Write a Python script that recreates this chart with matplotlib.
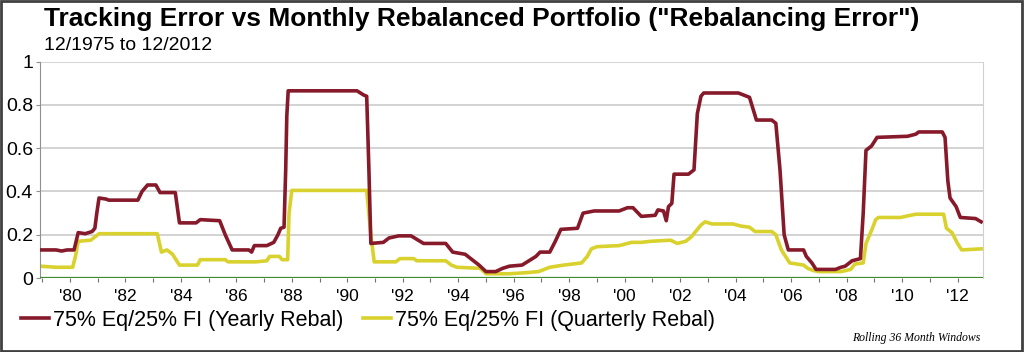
import matplotlib
matplotlib.use('Agg')
import matplotlib.pyplot as plt
from matplotlib.ticker import FixedLocator, FuncFormatter
from matplotlib.patches import Rectangle

# Rolling 36-month tracking error vs monthly rebalanced portfolio
yearly_dates = [
    1978.92, 1979.5, 1979.7, 1979.9, 1980.15, 1980.3, 1980.55, 1980.8, 1980.9, 1980.97,
    1981.05, 1981.3, 1981.4, 1982.45, 1982.6, 1982.8, 1983.1, 1983.25, 1983.8, 1983.95,
    1984.55, 1984.7, 1985.4, 1985.6, 1985.85, 1986.45, 1986.55, 1986.65, 1987.1, 1987.35,
    1987.5, 1987.6, 1987.72, 1987.78, 1987.82, 1987.87, 1990.35, 1990.6, 1990.7, 1990.78,
    1990.85, 1991.3, 1991.5, 1991.85, 1992.3, 1992.75, 1993.55, 1993.8, 1994.25, 1994.5,
    1994.75, 1995.0, 1995.35, 1995.6, 1995.85, 1996.3, 1996.55, 1996.8, 1996.95, 1997.3,
    1997.5, 1997.7, 1998.3, 1998.5, 1998.9, 1999.8, 2000.1, 2000.3, 2000.6, 2001.1,
    2001.2, 2001.4, 2001.5, 2001.58, 2001.7, 2001.78, 2002.3, 2002.5, 2002.62, 2002.75,
    2002.85, 2004.1, 2004.3, 2004.5, 2004.75, 2005.3, 2005.45, 2005.6, 2005.75, 2005.9,
    2006.45, 2006.55, 2006.75, 2006.9, 2007.6, 2007.8, 2007.95, 2008.2, 2008.5, 2008.6,
    2008.7, 2008.9, 2009.1, 2010.2, 2010.5, 2010.6, 2011.45, 2011.55, 2011.65, 2011.73,
    2011.95, 2012.1, 2012.65, 2012.85,
]
yearly_vals = [
    0.13, 0.13, 0.125, 0.13, 0.13, 0.21, 0.205, 0.215, 0.23, 0.30,
    0.37, 0.365, 0.36, 0.36, 0.40, 0.43, 0.43, 0.395, 0.395, 0.255,
    0.255, 0.27, 0.265, 0.20, 0.13, 0.13, 0.12, 0.15, 0.15, 0.165,
    0.20, 0.23, 0.235, 0.50, 0.75, 0.865, 0.865, 0.845, 0.84, 0.50,
    0.16, 0.165, 0.185, 0.195, 0.195, 0.16, 0.16, 0.12, 0.11, 0.085,
    0.06, 0.03, 0.03, 0.045, 0.055, 0.06, 0.08, 0.10, 0.12, 0.12,
    0.17, 0.225, 0.23, 0.30, 0.31, 0.31, 0.325, 0.325, 0.285, 0.29,
    0.315, 0.31, 0.265, 0.33, 0.345, 0.48, 0.48, 0.50, 0.76, 0.84,
    0.855, 0.855, 0.845, 0.835, 0.73, 0.73, 0.715, 0.50, 0.20, 0.13,
    0.13, 0.10, 0.07, 0.04, 0.04, 0.05, 0.055, 0.08, 0.09, 0.30,
    0.59, 0.61, 0.65, 0.655, 0.665, 0.675, 0.675, 0.65, 0.45, 0.37,
    0.33, 0.28, 0.275, 0.26,
]

quarterly_dates = [
    1978.92, 1979.5, 1980.1, 1980.2, 1980.3, 1980.75, 1980.85, 1981.05, 1983.15, 1983.3,
    1983.5, 1983.7, 1983.95, 1984.6, 1984.7, 1985.6, 1985.7, 1986.7, 1987.1, 1987.2,
    1987.55, 1987.65, 1987.85, 1987.9, 1988.0, 1990.7, 1990.85, 1990.97, 1991.75, 1991.9,
    1992.4, 1992.5, 1993.55, 1993.75, 1993.95, 1994.8, 1995.0, 1995.85, 1996.45, 1996.9,
    1997.3, 1997.8, 1998.45, 1998.65, 1998.8, 1999.0, 1999.8, 2000.1, 2000.25, 2000.6,
    2000.95, 2001.65, 2001.9, 2002.2, 2002.4, 2002.75, 2002.9, 2003.15, 2003.9, 2004.2,
    2004.5, 2004.7, 2005.3, 2005.45, 2005.65, 2005.95, 2006.45, 2006.6, 2006.8, 2007.0,
    2007.8, 2008.15, 2008.3, 2008.6, 2008.7, 2008.9, 2009.05, 2009.15, 2009.95, 2010.3,
    2010.5, 2011.5, 2011.6, 2011.8, 2012.0, 2012.15, 2012.85,
]
quarterly_vals = [
    0.055, 0.05, 0.05, 0.10, 0.17, 0.175, 0.185, 0.205, 0.205, 0.12,
    0.13, 0.11, 0.06, 0.06, 0.085, 0.085, 0.075, 0.075, 0.08, 0.10,
    0.10, 0.085, 0.085, 0.30, 0.405, 0.405, 0.20, 0.075, 0.075, 0.09,
    0.09, 0.08, 0.08, 0.06, 0.05, 0.045, 0.02, 0.02, 0.025, 0.03,
    0.05, 0.06, 0.07, 0.10, 0.135, 0.145, 0.15, 0.16, 0.165, 0.165,
    0.17, 0.175, 0.16, 0.17, 0.19, 0.245, 0.26, 0.25, 0.25, 0.24,
    0.235, 0.215, 0.215, 0.20, 0.13, 0.07, 0.06, 0.045, 0.035, 0.03,
    0.03, 0.04, 0.065, 0.07, 0.16, 0.22, 0.27, 0.28, 0.28, 0.29,
    0.295, 0.295, 0.23, 0.21, 0.16, 0.13, 0.135,
]

year_ticks = list(range(1979, 2014))
y_ticks = [0, 0.2, 0.4, 0.6, 0.8, 1]

plt.rcParams['font.family'] = ['Liberation Sans', 'DejaVu Sans']

fig = plt.figure(figsize=(10.24, 3.52), dpi=100)
ax = fig.add_axes([0.039, 0.21, 0.921, 0.615])

red = '#861A2A'
yellow = '#D9D22E'

ax.plot(yearly_dates, yearly_vals, color=red, lw=2.6,
        label='75% Eq/25% FI (Yearly Rebal)', zorder=3)
ax.plot(quarterly_dates, quarterly_vals, color=yellow, lw=2.6,
        label='75% Eq/25% FI (Quarterly Rebal)', zorder=2)
ax.axhline(0, color='#3F8A2C', lw=1.6, zorder=4)

ax.set_xlim(1978.92, 2012.92)
ax.set_ylim(0, 1)

# axis styling
ax.xaxis.set_major_locator(FixedLocator(year_ticks))
ax.xaxis.set_major_formatter(FuncFormatter(
    lambda v, p: "'%02d" % (int(round(v)) % 100) if int(round(v)) % 2 == 0 else ''))
ax.set_yticks(y_ticks)
ax.yaxis.set_major_formatter(FuncFormatter(lambda v, p: '%g' % v))
ax.tick_params(axis='x', length=3, width=0.8, color='#707070', labelsize=12.5, pad=5)
ax.tick_params(axis='y', length=3, width=0.8, color='#909090', labelsize=14, pad=2)
ax.grid(axis='y', color='#C8C8C8', lw=1.1)
ax.set_axisbelow(True)
ax.spines['top'].set_visible(False)
ax.spines['left'].set_color('#909090')
ax.spines['right'].set_color('#D0D0D0')
ax.spines['bottom'].set_visible(False)

# titles
fig.text(0.043, 0.945, 'Tracking Error vs Monthly Rebalanced Portfolio ("Rebalancing Error")',
         fontsize=19, fontweight='bold', va='center', ha='left')
fig.text(0.043, 0.872, '12/1975 to 12/2012', fontsize=14, va='center', ha='left')

leg = fig.legend(loc='center left', bbox_to_anchor=(0.012, 0.09), ncol=2, frameon=False,
                 fontsize=15.5, handlelength=1.3, handletextpad=0.2, columnspacing=0.9,
                 borderaxespad=0)

fig.text(0.957, 0.04, 'Rolling 36 Month Windows', fontsize=8.5, style='italic',
         family='Liberation Serif', ha='right', va='center')

# outer frame of the picture
fig.patches.append(Rectangle((0.001, 0.002), 0.997, 0.995, transform=fig.transFigure,
                             fill=False, edgecolor='#404040', lw=2))

fig.savefig('out.png', dpi=100)
